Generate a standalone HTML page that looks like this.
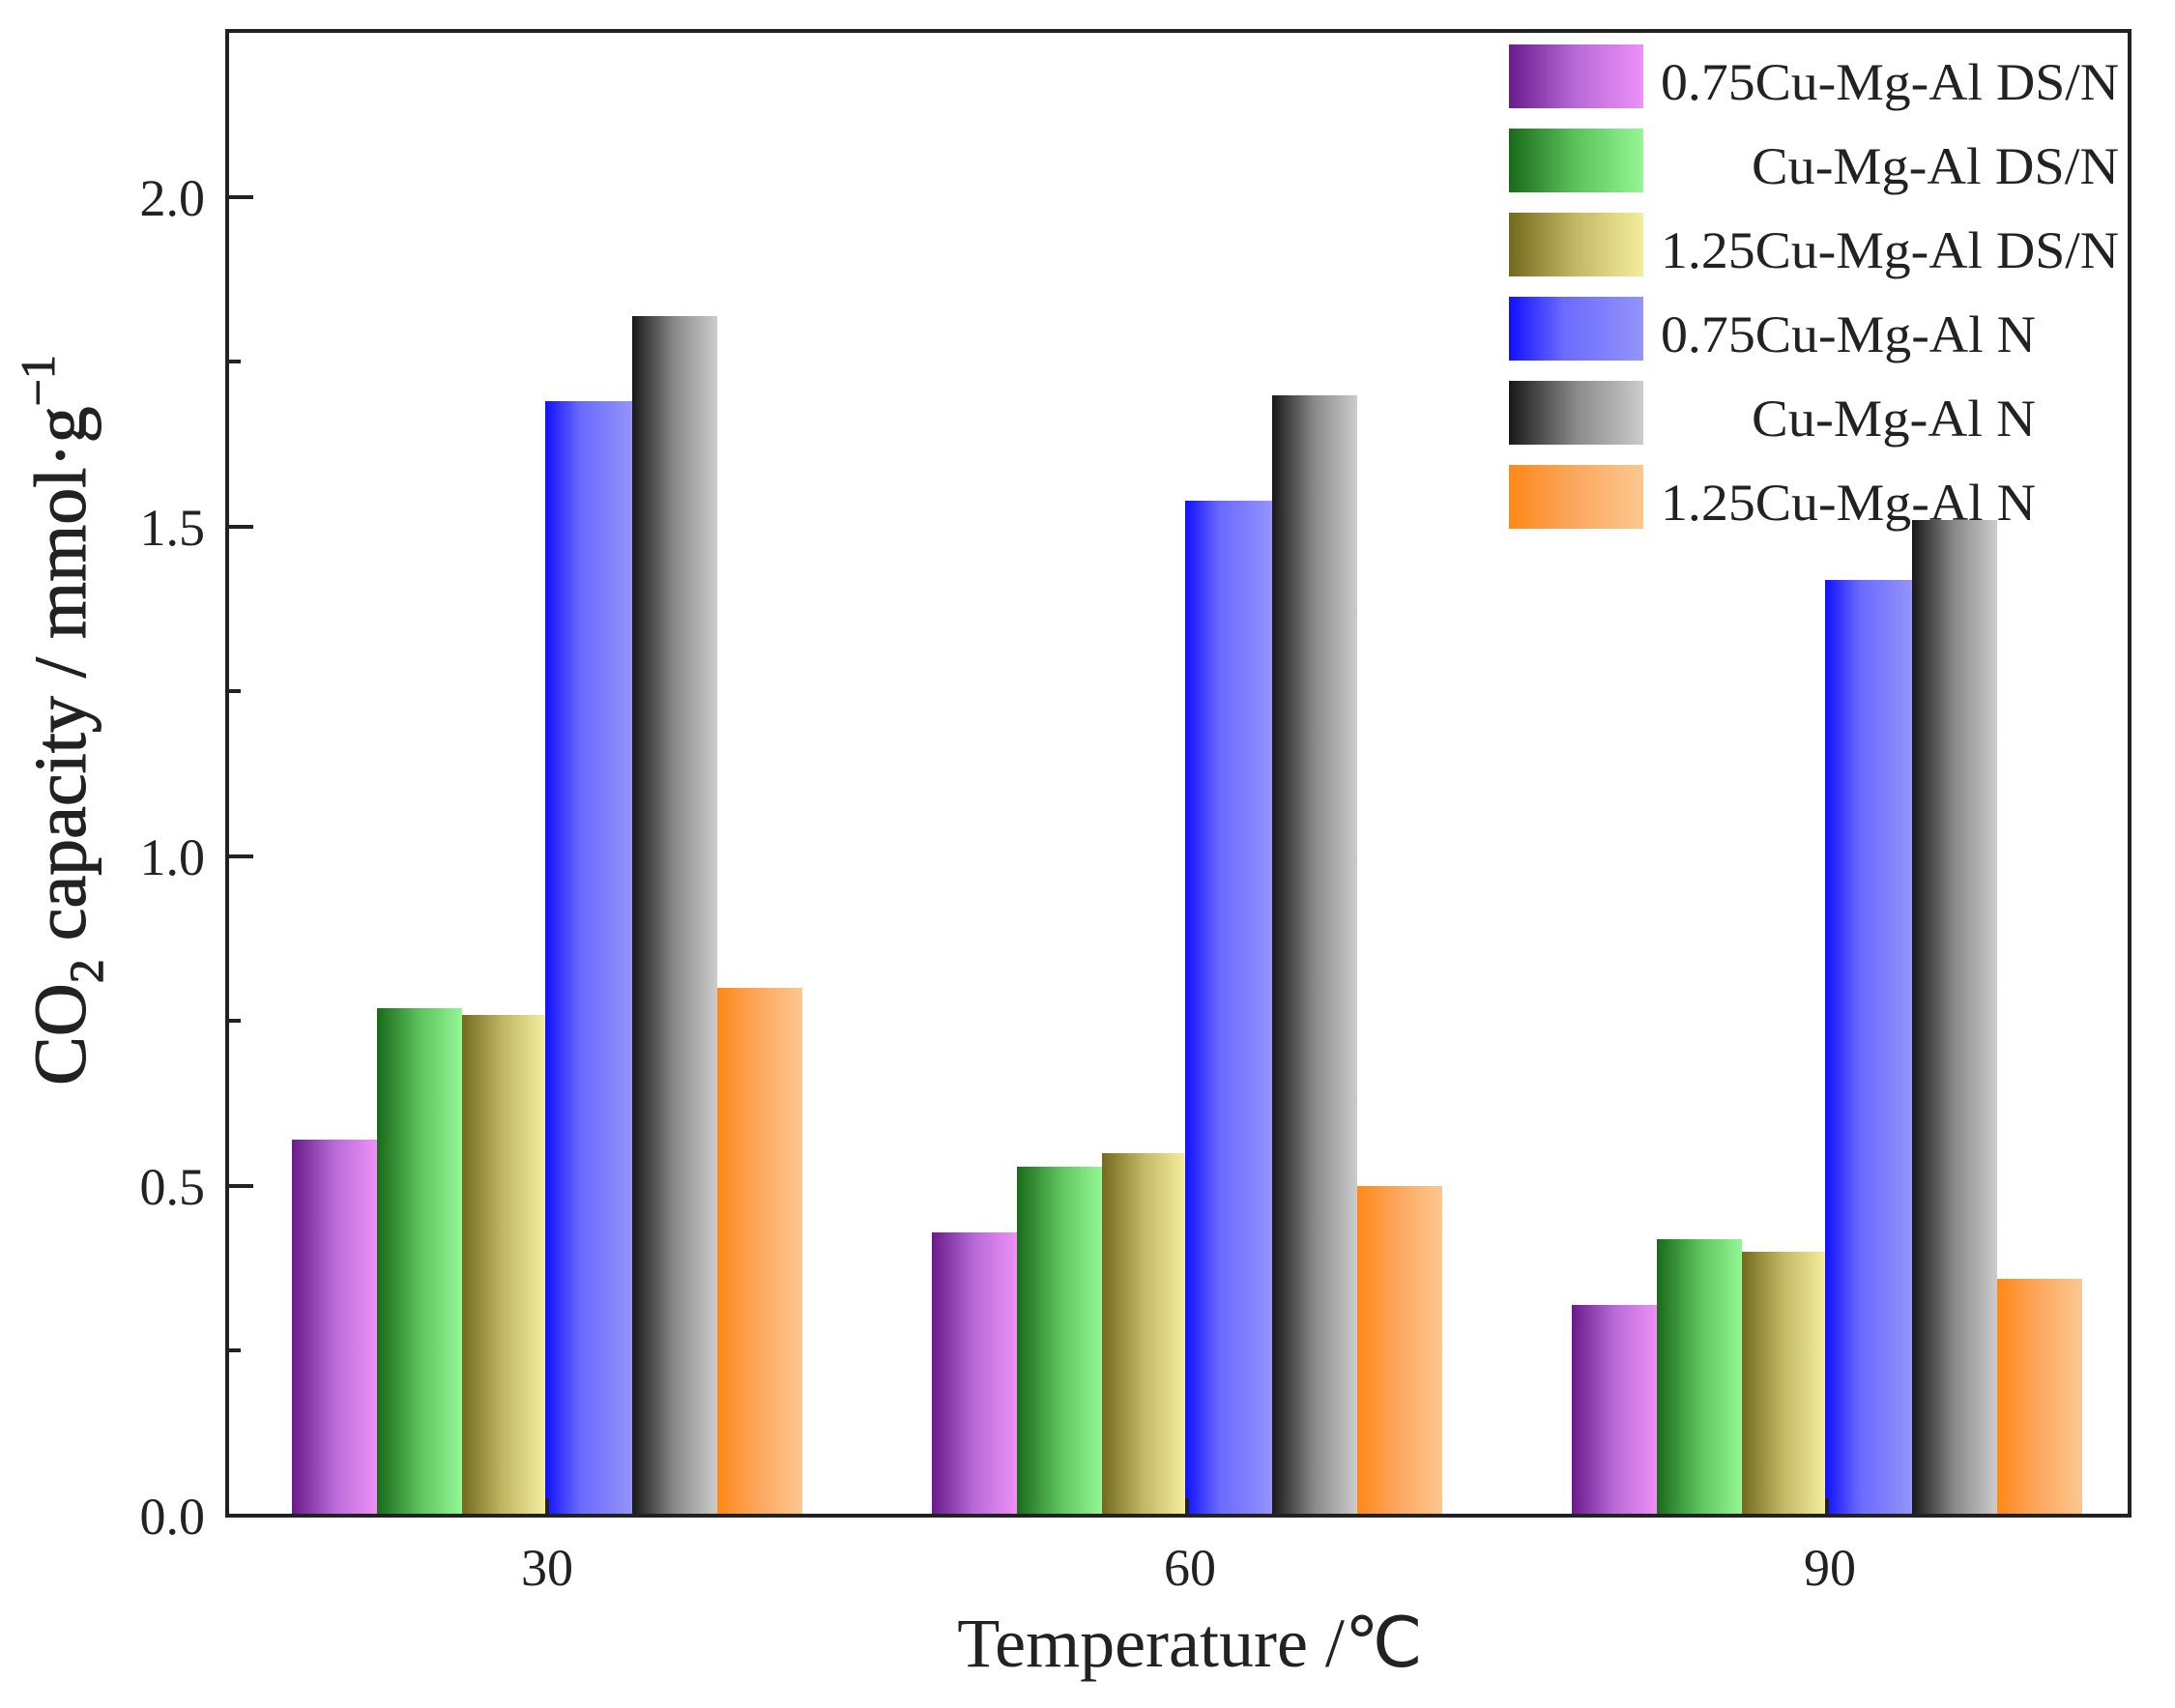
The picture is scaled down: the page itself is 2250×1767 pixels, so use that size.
<!DOCTYPE html>
<html><head><meta charset="utf-8"><style>html,body{margin:0;padding:0;background:#fff}svg{display:block}</style></head>
<body>
<svg width="2250" height="1767" viewBox="0 0 2250 1767" xmlns="http://www.w3.org/2000/svg" font-family="'Liberation Serif', serif">
<defs>
<linearGradient id="g0" x1="0" x2="1" y1="0" y2="0"><stop offset="0" stop-color="#6a1a8a"/><stop offset="0.5" stop-color="#b86ad8"/><stop offset="1" stop-color="#ee90f8"/></linearGradient>
<linearGradient id="g1" x1="0" x2="1" y1="0" y2="0"><stop offset="0" stop-color="#1a6a1a"/><stop offset="0.5" stop-color="#5cc25c"/><stop offset="1" stop-color="#94f794"/></linearGradient>
<linearGradient id="g2" x1="0" x2="1" y1="0" y2="0"><stop offset="0" stop-color="#746a1e"/><stop offset="0.5" stop-color="#c2b866"/><stop offset="1" stop-color="#f4ee9c"/></linearGradient>
<linearGradient id="g3" x1="0" x2="1" y1="0" y2="0"><stop offset="0" stop-color="#1010ff"/><stop offset="0.4" stop-color="#6a6aff"/><stop offset="1" stop-color="#9494fb"/></linearGradient>
<linearGradient id="g4" x1="0" x2="1" y1="0" y2="0"><stop offset="0" stop-color="#181818"/><stop offset="0.5" stop-color="#8a8a8a"/><stop offset="1" stop-color="#cccccc"/></linearGradient>
<linearGradient id="g5" x1="0" x2="1" y1="0" y2="0"><stop offset="0" stop-color="#ff8818"/><stop offset="0.5" stop-color="#fca860"/><stop offset="1" stop-color="#fcc890"/></linearGradient>
</defs>
<rect width="2250" height="1767" fill="#fff"/>
<g>
<rect x="302" y="1179" width="88" height="389" fill="url(#g0)"/>
<rect x="390" y="1043" width="88" height="525" fill="url(#g1)"/>
<rect x="478" y="1050" width="86" height="518" fill="url(#g2)"/>
<rect x="564" y="415" width="90" height="1153" fill="url(#g3)"/>
<rect x="654" y="327" width="88" height="1241" fill="url(#g4)"/>
<rect x="742" y="1022" width="88" height="546" fill="url(#g5)"/>

<rect x="964" y="1275" width="88" height="293" fill="url(#g0)"/>
<rect x="1052" y="1207" width="88" height="361" fill="url(#g1)"/>
<rect x="1140" y="1193" width="86" height="375" fill="url(#g2)"/>
<rect x="1226" y="518" width="90" height="1050" fill="url(#g3)"/>
<rect x="1316" y="409" width="88" height="1159" fill="url(#g4)"/>
<rect x="1404" y="1227" width="88" height="341" fill="url(#g5)"/>

<rect x="1626" y="1350" width="88" height="218" fill="url(#g0)"/>
<rect x="1714" y="1282" width="88" height="286" fill="url(#g1)"/>
<rect x="1802" y="1295" width="86" height="273" fill="url(#g2)"/>
<rect x="1888" y="600" width="90" height="968" fill="url(#g3)"/>
<rect x="1978" y="538" width="88" height="1030" fill="url(#g4)"/>
<rect x="2066" y="1323" width="88" height="245" fill="url(#g5)"/>
</g>
<rect x="235" y="32" width="1968" height="1536" fill="none" stroke="#222" stroke-width="4"/>
<g stroke="#222" stroke-width="4">
<line x1="235" y1="1227" x2="262" y2="1227"/><line x1="235" y1="886" x2="262" y2="886"/><line x1="235" y1="545" x2="262" y2="545"/><line x1="235" y1="204" x2="262" y2="204"/>
<line x1="235" y1="1397" x2="249" y2="1397"/><line x1="235" y1="1056" x2="249" y2="1056"/><line x1="235" y1="715" x2="249" y2="715"/><line x1="235" y1="374" x2="249" y2="374"/>
<line x1="566" y1="1568" x2="566" y2="1550"/><line x1="1228" y1="1568" x2="1228" y2="1550"/><line x1="1890" y1="1568" x2="1890" y2="1550"/>
</g>
<g font-size="54" fill="#222" text-anchor="end">
<text x="212" y="1587">0.0</text><text x="212" y="1246">0.5</text><text x="212" y="905">1.0</text><text x="212" y="564">1.5</text><text x="212" y="223">2.0</text>
</g>
<g font-size="54" fill="#222" text-anchor="middle">
<text x="566" y="1640">30</text><text x="1231" y="1640">60</text><text x="1893" y="1640">90</text>
</g>
<text x="1231" y="1724" font-size="72" fill="#222" text-anchor="middle">Temperature /℃</text>
<text transform="translate(88,745) rotate(-90)" font-size="76" fill="#222" text-anchor="middle" stroke="#222" stroke-width="1">CO<tspan font-size="50" dy="18">2</tspan><tspan dy="-18"> capacity / mmol·g</tspan><tspan font-size="50" dy="-32">−1</tspan></text>
<g>
<rect x="1561" y="46" width="139" height="66" fill="url(#g0)"/>
<rect x="1561" y="133" width="139" height="66" fill="url(#g1)"/>
<rect x="1561" y="220" width="139" height="66" fill="url(#g2)"/>
<rect x="1561" y="307" width="139" height="66" fill="url(#g3)"/>
<rect x="1561" y="394" width="139" height="66" fill="url(#g4)"/>
<rect x="1561" y="481" width="139" height="66" fill="url(#g5)"/>
</g>
<g font-size="54" fill="#222" text-anchor="end">
<text x="2192" y="103" textLength="474" lengthAdjust="spacingAndGlyphs">0.75Cu-Mg-Al DS/N</text>
<text x="2192" y="190" textLength="380" lengthAdjust="spacingAndGlyphs">Cu-Mg-Al DS/N</text>
<text x="2192" y="277" textLength="474" lengthAdjust="spacingAndGlyphs">1.25Cu-Mg-Al DS/N</text>
<text x="2106" y="364" textLength="388" lengthAdjust="spacingAndGlyphs">0.75Cu-Mg-Al N</text>
<text x="2106" y="451" textLength="294" lengthAdjust="spacingAndGlyphs">Cu-Mg-Al N</text>
<text x="2106" y="538" textLength="388" lengthAdjust="spacingAndGlyphs">1.25Cu-Mg-Al N</text>
</g>
</svg>
</body></html>
